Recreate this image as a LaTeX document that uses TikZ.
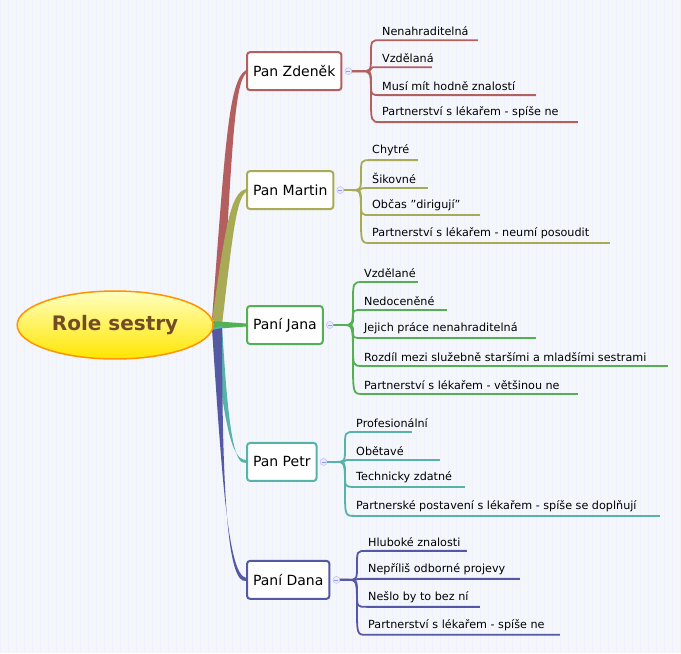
\documentclass[tikz,border=0pt]{standalone}
\usepackage{fontspec}
\setmainfont{DejaVu Sans}
\usetikzlibrary{shapes.geometric}
\definecolor{czden}{HTML}{B35F5F}
\definecolor{cmart}{HTML}{A9AA55}
\definecolor{cjana}{HTML}{55B055}
\definecolor{cpetr}{HTML}{55B3AA}
\definecolor{cdana}{HTML}{5558A3}
\definecolor{bg}{HTML}{F4F7FA}
\tikzset{
  person/.style={draw=#1,line width=2pt,rounded corners=3pt,fill=white,minimum height=38pt,
    inner xsep=6pt,font=\fontsize{14}{16}\selectfont,anchor=west},
  leaf/.style={anchor=south west,inner sep=1pt,font=\fontsize{11.2}{13}\selectfont},
  knob/.style={circle,draw=blue!30,fill=blue!8,inner sep=0pt,minimum size=7pt}
}
\begin{document}
\begin{tikzpicture}[x=1pt,y=-1pt]
\fill[bg] (0,0) rectangle (681,653);
\draw[blue!6,step=8] (0,0) grid (681,653);
\useasboundingbox (0,0) rectangle (681,653);

%trunk
\fill[czden] (212,318) .. controls (225,150) and (228,80) .. (246,70) -- (246,73) .. controls (234,85) and (232,150) .. (222,322) -- cycle;
\fill[cmart] (212,320) .. controls (225,230) and (230,192) .. (246,189) -- (246,192) .. controls (236,198) and (232,240) .. (222,324) -- cycle;
\fill[cjana] (212,321) -- (246,323.5) -- (246,326.5) -- (212,329) -- cycle;
\fill[cpetr] (212,328) .. controls (225,420) and (230,460) .. (246,460) -- (246,463) .. controls (234,466) and (228,430) .. (222,326) -- cycle;
\fill[cdana] (212,330) .. controls (222,480) and (228,575) .. (246,578) -- (246,581) .. controls (228,585) and (222,500) .. (222,328) -- cycle;

%root
\node[ellipse,draw=orange!85!yellow,line width=1.5pt,top color=yellow!25,bottom color=yellow!80!orange,
  minimum width=196pt,minimum height=68pt,font=\bfseries\fontsize{20}{22}\selectfont,text=brown!60!black]
  (root) at (115,325) {Role sestry};

%persons
\node[person=czden] (zden) at (246,71) {Pan Zdeněk};
\node[person=cmart] (mart) at (246,190) {Pan Martin};
\node[person=cjana] (jana) at (246,325) {Paní Jana};
\node[person=cpetr] (petr) at (246,462) {Pan Petr};
\node[person=cdana] (dana) at (246,580) {Paní Dana};

%leaves
\foreach \p/\py/\c/\x/\ys in {zden/71/czden/373/{40/478/Nenahraditelná,67/432/Vzdělaná,95/536/Musí mít hodně znalostí,122/578/Partnerství s lékařem - spíše ne},
  mart/190/cmart/363/{160/418/Chytré,188/428/Šikovné,215/480/Občas "dirigují",243/610/Partnerství s lékařem - neumí posoudit},
  jana/325/cjana/355/{282/418/Vzdělané,310/447/Nedoceněné,338/536/Jejich práce nenahraditelná,366/668/Rozdíl mezi služebně staršími a mladšími sestrami,394/578/Partnerství s lékařem - většinou ne},
  petr/462/cpetr/347/{432/412/Profesionální,460/440/Obětavé,487/465/Technicky zdatné,516/660/Partnerské postavení s lékařem - spíše se doplňují},
  dana/580/cdana/359/{551/467/Hluboké znalosti,579/520/Nepříliš odborné projevy,607/480/Nešlo by to bez ní,635/560/Partnerství s lékařem - spíše ne}}{
  \coordinate (\p k) at ([xshift=6pt]\p.east);
  \foreach \y/\e/\t in \ys {
    \draw[\c,line width=1.8pt] (\p k) -- (\x-12,\py) .. controls (\x-2,\py) and (\x-2,\py) .. (\x-2,{\py+(\y-\py)/2})
      .. controls (\x-2,\y) and (\x-2,\y) .. (\x+8,\y) -- (\e,\y);
    \node[leaf] at (\x+8,\y-3) {\t};
  }
  \node[knob] at (\p k) {};
  \draw[blue!40,line width=0.6pt] ([xshift=-2pt]\p k) -- ([xshift=2pt]\p k);
}
\end{tikzpicture}
\end{document}
